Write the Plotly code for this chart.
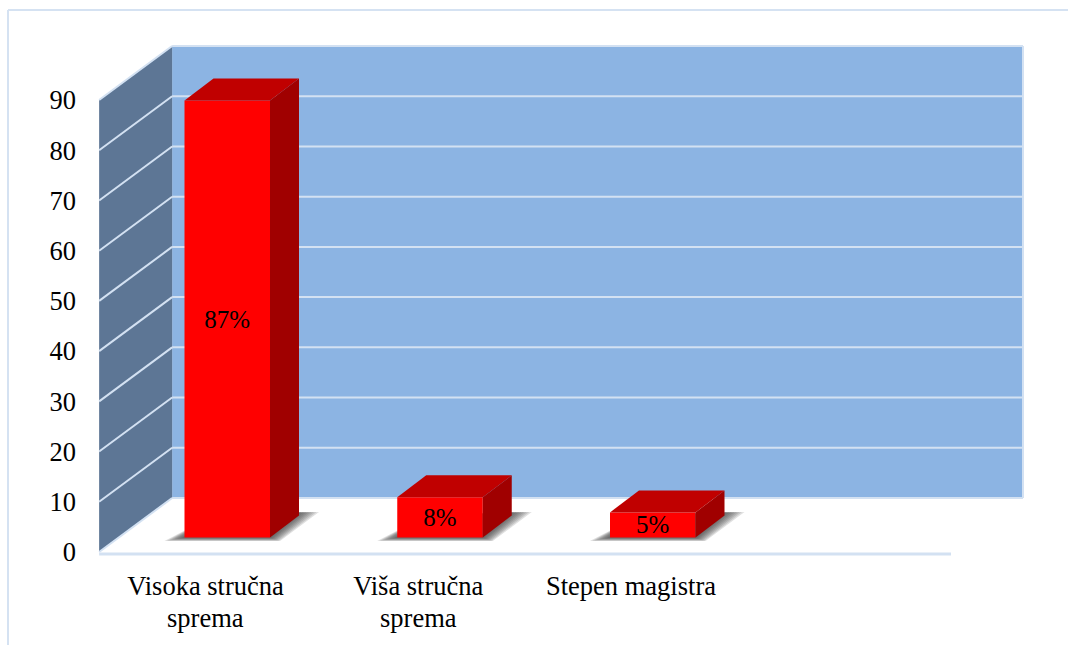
import plotly.graph_objects as go

categories_line1 = ["Visoka stručna", "Viša stručna", "Stepen magistra"]
categories_line2 = ["sprema", "sprema", ""]
values = [87, 8, 5]
value_labels = ["87%", "8%", "5%"]
y_ticks = [0, 10, 20, 30, 40, 50, 60, 70, 80, 90]

W, H = 1068, 645
PX_PER_CAT = 212.75
PX_PER_UNIT = 5.022
X0_PX, Y0_PX = 205.5, 552      # pixel of category 0 / value 0
PL, PR, PT, PB = 95, 1026, 43, 558   # plot rectangle in px

FONT = "Liberation Serif"
def ux(px): return px / PX_PER_CAT
def uy(px): return px / PX_PER_UNIT

x_left = -0.5
wall_dx, wall_dy = ux(73), uy(54)
x_right = ux(1023 - X0_PX)
bar_shift = ux(21.75)
bar_w = ux(85.5)
floor = uy(14.5)
top_dx, top_dy = ux(29), uy(22)

def path(pts):
    return "M" + " L".join(f"{x:.5f},{y:.5f}" for x, y in pts) + " Z"

shapes = []
def poly(pts, color, layer="below"):
    shapes.append(dict(type="path", path=path(pts), xref="x", yref="y", fillcolor=color,
                       line=dict(width=0), layer=layer))
def seg(a, b, color="#d3e1f2", width=2):
    shapes.append(dict(type="line", x0=a[0], y0=a[1], x1=b[0], y1=b[1], xref="x", yref="y",
                       line=dict(color=color, width=width), layer="below"))

top = y_ticks[-1]
# back and side walls
poly([(x_left + wall_dx, wall_dy), (x_right, wall_dy), (x_right, top + wall_dy), (x_left + wall_dx, top + wall_dy)], "#8cb4e3")
poly([(x_left, 0), (x_left + wall_dx, wall_dy), (x_left + wall_dx, top + wall_dy), (x_left, top)], "#5d7695")
for t in y_ticks:
    seg((x_left + wall_dx, t + wall_dy), (x_right, t + wall_dy))
    if t > 0:
        seg((x_left, t), (x_left + wall_dx, t + wall_dy))
seg((x_left, 0), (x_left + wall_dx, wall_dy))
seg((x_right, wall_dy), (x_right, top + wall_dy))
# front axis line
seg((x_left, -uy(2)), (ux(951 - X0_PX), -uy(2)), "#d3e1f2", 3)

# soft floor shadows under each bar
for i in range(len(values)):
    xl = i + bar_shift - bar_w / 2
    xr = xl + bar_w
    for k in range(8):
        g = (8 - k) * 2.5
        b = (8 - k) * 0.45
        poly([
            (xl - ux(g), floor - uy(b)),
            (xr + ux(g * 0.5), floor - uy(b)),
            (xr + top_dx + ux(g), floor + top_dy + uy(3.5)),
            (xl + top_dx, floor + top_dy),
        ], "rgba(60,60,60,0.16)")

fig = go.Figure()
fig.add_trace(go.Bar(
    x=[i + bar_shift for i in range(len(values))], y=values, base=floor, width=bar_w,
    marker=dict(color="#ff0000", line=dict(width=0)),
    text=value_labels, textposition="inside", insidetextanchor="middle", textangle=0,
    constraintext="none", insidetextfont=dict(family=FONT, size=25, color="#000000"),
    showlegend=False, hoverinfo="skip",
))
for i, v in enumerate(values):
    xl = i + bar_shift - bar_w / 2
    xr = xl + bar_w
    yt = floor + v
    fig.add_trace(go.Scatter(
        x=[xl, xr, xr + top_dx, xl + top_dx, xl], y=[yt, yt, yt + top_dy, yt + top_dy, yt],
        mode="lines", fill="toself", fillcolor="#c00000", line=dict(width=0),
        showlegend=False, hoverinfo="skip"))
    fig.add_trace(go.Scatter(
        x=[xr, xr + top_dx, xr + top_dx, xr, xr],
        y=[floor, floor + top_dy, yt + top_dy, yt, floor],
        mode="lines", fill="toself", fillcolor="#a00000", line=dict(width=0),
        showlegend=False, hoverinfo="skip"))

# outer frame (paper coordinates)
def px_x(p): return (p - PL) / (PR - PL)
def px_y(p): return (PB - p) / (PB - PT)
for a, b, c, d in [(8, 10, 8, 645), (8, 10, 1068, 10)]:
    shapes.append(dict(type="line", xref="paper", yref="paper", x0=px_x(a), y0=px_y(b), x1=px_x(c), y1=px_y(d),
                       line=dict(color="#d5e2f2", width=2)))

annotations = [
    dict(x=i, y=px_y(618), xref="x", yref="paper", text=t, showarrow=False, xanchor="center", yanchor="middle",
         font=dict(family=FONT, size=26.5, color="#000000"))
    for i, t in enumerate(categories_line2) if t
]

fig.update_layout(
    width=W, height=H, autosize=False,
    margin=dict(l=PL, r=W - PR, t=PT, b=H - PB, pad=0),
    paper_bgcolor="#ffffff", plot_bgcolor="#ffffff",
    shapes=shapes, annotations=annotations, showlegend=False, barmode="overlay",
    font=dict(family=FONT, color="#000000", size=26),
    xaxis=dict(
        range=[ux(PL - X0_PX), ux(PR - X0_PX)], automargin=False,
        tickmode="array", tickvals=list(range(len(categories_line1))), ticktext=categories_line1,
        showgrid=False, zeroline=False, showline=False, ticks="", ticklabelstandoff=9,
        tickfont=dict(family=FONT, size=26.5, color="#000000"), tickangle=0,
    ),
    yaxis=dict(
        range=[uy(Y0_PX - PB), uy(Y0_PX - PT)], automargin=False,
        tickmode="array", tickvals=y_ticks,
        showgrid=False, zeroline=False, showline=False, ticks="", ticklabelstandoff=18,
        tickfont=dict(family=FONT, size=26.5, color="#000000"),
    ),
)

fig.write_html("out.html", config=dict(displayModeBar=False),
               post_script="document.body.style.margin='0';document.body.style.overflow='hidden';")
